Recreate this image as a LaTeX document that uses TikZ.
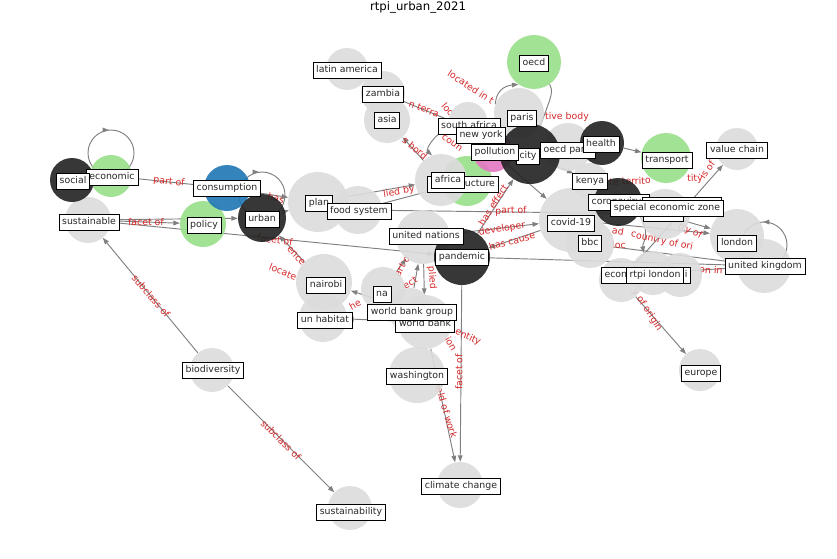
\documentclass[tikz,border=0pt]{standalone}
\usepackage{fontspec}
\setmainfont{DejaVu Sans}
\usetikzlibrary{arrows.meta}
\pgfdeclarelayer{bg}
\pgfsetlayers{bg,main}
\definecolor{ngray}{RGB}{220,220,220}
\definecolor{ngreen}{RGB}{152,223,138}
\definecolor{nblue}{RGB}{31,119,180}
\definecolor{npink}{RGB}{227,119,194}
\definecolor{nblack}{RGB}{34,34,34}
\definecolor{ered}{RGB}{214,39,40}
\definecolor{egray}{RGB}{128,128,128}
\definecolor{ltext}{RGB}{40,40,40}
\newcommand{\mk}[5]{\node[circle,inner sep=0pt,minimum size=#4*0.06cm,fill=#5,fill opacity=0.9] (#1) at (#2,#3) {};}
\begin{document}
\begin{tikzpicture}[x=0.03cm,y=-0.03cm,
  lbl/.style={draw=black,fill=white,line width=0.6pt,inner sep=2.8pt,text height=6.2pt,text depth=1.8pt,font=\fontsize{8}{9.6}\selectfont,text=ltext},
  elbl/.style={text=ered,font=\fontsize{8}{9.6}\selectfont,inner sep=0pt},
  edge/.style={draw=egray,line width=0.8pt,-{Triangle[length=5.5pt,width=4pt]}},
  eline/.style={draw=egray,line width=0.8pt},
  tip/.style={draw=egray,fill=egray,line width=0.8pt,-{Triangle[length=5.5pt,width=4pt]}}]
\useasboundingbox (0,0) rectangle (837,559);
% ---------- node discs ----------
\mk{latam}{347}{69}{21}{ngray}
\mk{zambia}{383}{93}{22}{ngray}
\mk{asia}{387}{120}{23}{ngray}
\mk{safrica}{468}{121}{19}{ngray}
\mk{newyork}{483}{134}{16}{ngray}
\mk{paris}{519}{113}{25}{ngray}
\mk{oecdp}{568}{147}{24}{ngray}
\mk{valuechain}{737}{149}{21}{ngray}
\mk{kenya}{590}{181}{18}{ngray}
\mk{sez}{665}{214}{25}{ngray}
\mk{sustainable}{88}{220}{23}{ngray}
\mk{plan}{318}{202}{30}{ngray}
\mk{foodsys}{358}{210}{24}{ngray}
\mk{un}{423}{237}{27}{ngray}
\mk{covid}{571}{220}{32}{ngray}
\mk{bbc}{590}{244}{24}{ngray}
\mk{london}{737}{236}{27}{ngray}
\mk{uk}{764}{266}{27}{ngray}
\mk{economy}{621}{280}{22}{ngray}
\mk{rtpi}{653}{273}{22}{ngray}
\mk{ibox}{680}{275}{22}{ngray}
\mk{nairobi}{324}{282}{28}{ngray}
\mk{na}{383}{289}{22}{ngray}
\mk{unhabitat}{323}{318}{24}{ngray}
\mk{wbg}{410}{310}{22}{ngray}
\mk{wb}{425}{322}{27}{ngray}
\mk{washington}{417}{375}{28}{ngray}
\mk{bio}{212}{370}{22}{ngray}
\mk{climate}{460}{485}{23}{ngray}
\mk{sustainability}{350}{508}{22}{ngray}
\mk{europe}{700}{370}{21}{ngray}
\mk{oecd}{534}{62}{27}{ngreen}
\mk{transport}{666}{158}{25}{ngreen}
\mk{social}{72}{180}{22}{nblack}
\mk{economic}{111}{176}{21}{ngreen}
\mk{policy}{203}{224}{23}{ngreen}
\mk{infra}{467}{181}{25}{ngreen}
\mk{consumption}{227}{188}{23}{nblue}
\mk{pollution}{493}{152}{20}{npink}
\mk{africa}{441}{180}{26}{ngray}
\mk{urban}{262}{218}{24}{nblack}
\mk{pandemic}{462}{257}{28}{nblack}
\mk{city}{530}{154}{30}{nblack}
\mk{health}{602}{143}{22}{nblack}
\mk{corona}{618}{202}{24}{nblack}
% ---------- label boxes ----------
\node[lbl] (latam-l) at (347,70) {latin america};
\node[lbl] (zambia-l) at (383,94) {zambia};
\node[lbl] (asia-l) at (387,120) {asia};
\node[lbl] (oecd-l) at (534,63) {oecd};
\node[lbl] (safrica-l) at (469,126) {south africa};
\node[lbl] (newyork-l) at (481,135) {new york};
\node[lbl] (paris-l) at (522,118) {paris};
\node[lbl] (city-l) at (528,156) {city};
\node[lbl] (pollution-l) at (495,152) {pollution};
\node[lbl] (oecdp-l) at (568,150) {oecd paris};
\node[lbl] (health-l) at (601,144) {health};
\node[lbl] (transport-l) at (667,160) {transport};
\node[lbl] (valuechain-l) at (737,150) {value chain};
\node[lbl] (kenya-l) at (590,181) {kenya};
\node[lbl] (infra-l) at (463,184) {infrastructure};
\node[lbl] (africa-l) at (448,180) {africa};
\node[lbl] (corona-l) at (619,202) {coronavirus};
\node[lbl,minimum width=2.37cm] (hbA) at (682,205) {};
\node[lbl,minimum width=1.2cm] (hbB) at (663,213) {};
\node[lbl] (sez-l) at (667,208) {special economic zone};
\node[lbl] (economic-l) at (112,177) {economic};
\node[lbl] (social-l) at (73,181) {social};
\node[lbl] (consumption-l) at (227,188) {consumption};
\node[lbl] (sustainable-l) at (89,222) {sustainable};
\node[lbl] (policy-l) at (204,225) {policy};
\node[lbl] (urban-l) at (262,219) {urban};
\node[lbl] (plan-l) at (319,203) {plan};
\node[lbl] (foodsys-l) at (359,211) {food system};
\node[lbl] (un-l) at (426,236) {united nations};
\node[lbl] (pandemic-l) at (462,257) {pandemic};
\node[lbl] (covid-l) at (571,223) {covid-19};
\node[lbl] (bbc-l) at (590,243) {bbc};
\node[lbl] (london-l) at (737,243) {london};
\node[lbl] (uk-l) at (765,266) {united kingdom};
\node[lbl] (economy-l) at (626,275) {economy};
\node[lbl,anchor=east] (ibox-l) at (691,275) {\hspace*{28pt}i};
\node[lbl] (rtpi-l) at (655,275) {rtpi london};
\node[lbl] (nairobi-l) at (326,285) {nairobi};
\node[lbl] (na-l) at (382,294) {na};
\node[lbl] (unhabitat-l) at (325,320) {un habitat};
\node[lbl] (wb-l) at (425,324) {world bank};
\node[lbl] (wbg-l) at (412,312) {world bank group};
\node[lbl] (washington-l) at (417,376) {washington};
\node[lbl] (bio-l) at (213,370) {biodiversity};
\node[lbl] (climate-l) at (461,486) {climate change};
\node[lbl] (sustainability-l) at (351,512) {sustainability};
\node[lbl] (europe-l) at (701,373) {europe};
\node[font=\fontsize{10}{12}\selectfont,inner sep=0pt] (title) at (418,7) {rtpi\_urban\_2021};
% ---------- edges (background layer) ----------
\begin{pgfonlayer}{bg}
\fill[white] (0,0) rectangle (837,559);
\draw[edge] (bio) -- (sustainable);
\draw[edge] (bio) -- (sustainability);
\draw[edge] (economic) -- (consumption);
\draw[edge] (sustainable) -- (policy);
\draw[edge] (sustainable) -- (urban);
\draw[edge] (sustainable) -- (pandemic);
\draw[edge] (consumption) -- (plan);
\draw[edge] (urban) -- (plan);
\draw[edge] (nairobi) -- (urban);
\draw[edge] (foodsys) -- (infra);
\draw[edge] (plan) -- (africa);
\draw[edge] (foodsys) -- (sez);
\draw[edge] (pandemic) -- (climate);
\draw[edge] (wb) -- (climate);
\draw[edge] (covid) -- (pandemic);
\draw[edge] (pandemic) -- (city);
\draw[edge] (un) -- (covid);
\draw[edge] (pandemic) -- (uk);
\draw[edge] (pollution) -- (covid);
\draw[edge] (zambia) -- (newyork);
\draw[edge] (africa) -- (asia);
\draw[edge] (health) -- (transport);
\draw[edge] (city) -- (kenya);
\draw[edge] (covid) -- (london);
\draw[edge] (corona) -- (london);
\draw[edge] (bbc) -- (uk);
\draw[edge] (economy) -- (europe);
\draw[edge] (rtpi) -- (uk);
\draw[edge] (wbg) -- (nairobi);
\draw[edge] (wb) -- (unhabitat);
\draw[edge] (wbg) -- (un);
\draw[edge] (un) -- (wb);
\draw[edge] (na) -- (un);
\draw[eline] (wb) -- (washington);
\draw[edge] (economy) -- (valuechain);
\draw[edge] (safrica.200) .. controls (432,135) and (426,150) .. (africa.110);
\draw[edge] (paris.160) .. controls (496,92) and (503,86) .. (oecd.-125);
\draw[eline] (oecd.-55) .. controls (553,92) .. (city.70);
\draw[edge] (corona.-30) .. controls (652,236) and (642,242) .. (rtpi.115);
% self loops
\draw[eline] ([yshift=23*0.03cm]economic.center) circle[radius=23];
\draw[tip] (104,130) -- (109,130);
\draw[eline] ([yshift=23*0.03cm]urban.center) circle[radius=23];
\draw[tip] (254,172) -- (259,172);
\draw[eline] ([yshift=21*0.03cm]uk.center) circle[radius=23];
\draw[tip] (768,222) -- (763,222);
% ---------- edge labels ----------
\node[elbl,rotate=-49] at (151,296) {subclass of};
\node[elbl,rotate=-45] at (281,440) {subclass of};
\node[elbl,rotate=-6] at (169,182) {part of};
\node[elbl,rotate=-1] at (146,222) {facet of};
\node[elbl,rotate=-8] at (275,240) {facet of};
\node[elbl,rotate=-48] at (296,256) {ence};
\node[elbl,rotate=-22] at (283,272) {locate};
\node[elbl,rotate=-15] at (276,198) {has};
\node[elbl,rotate=9] at (399,192) {lied by};
\node[elbl,rotate=-22] at (424,109) {n terra};
\node[elbl,rotate=-50] at (448,109) {loc};
\node[elbl,rotate=-40] at (415,148) {s bord};
\node[elbl,rotate=-35] at (452,143) {coun};
\node[elbl,rotate=-33] at (471,87) {located in t};
\node[elbl] at (567,117) {tive body};
\node[elbl,rotate=2] at (630,181) {te territo};
\node[elbl,rotate=2] at (695,179) {tity};
\node[elbl,rotate=55] at (707,170) {is of};
\node[elbl,rotate=-10] at (618,231) {ad};
\node[elbl,rotate=-25] at (690,231) {try of};
\node[elbl,rotate=-12] at (662,241) {country of ori};
\node[elbl] at (619,245) {loc};
\node[elbl,rotate=-3] at (711,270) {on in};
\node[elbl,rotate=-57] at (647,310) {y of origin};
\node[elbl,rotate=58] at (493,205) {has effect};
\node[elbl,rotate=2] at (511,211) {part of};
\node[elbl,rotate=10] at (502,229) {developer};
\node[elbl,rotate=15] at (512,241) {has cause};
\node[elbl,rotate=60] at (402,266) {art o};
\node[elbl,rotate=30] at (410,283) {ect};
\node[elbl,rotate=-85] at (432,278) {plied};
\node[elbl,rotate=-25] at (468,337) {entity};
\node[elbl,rotate=-60] at (451,344) {ion};
\node[elbl,rotate=90] at (459,372) {facet of};
\node[elbl,rotate=-73] at (446,410) {field of work};
\node[elbl,rotate=30] at (355,305) {he};
\end{pgfonlayer}
\end{tikzpicture}
\end{document}
